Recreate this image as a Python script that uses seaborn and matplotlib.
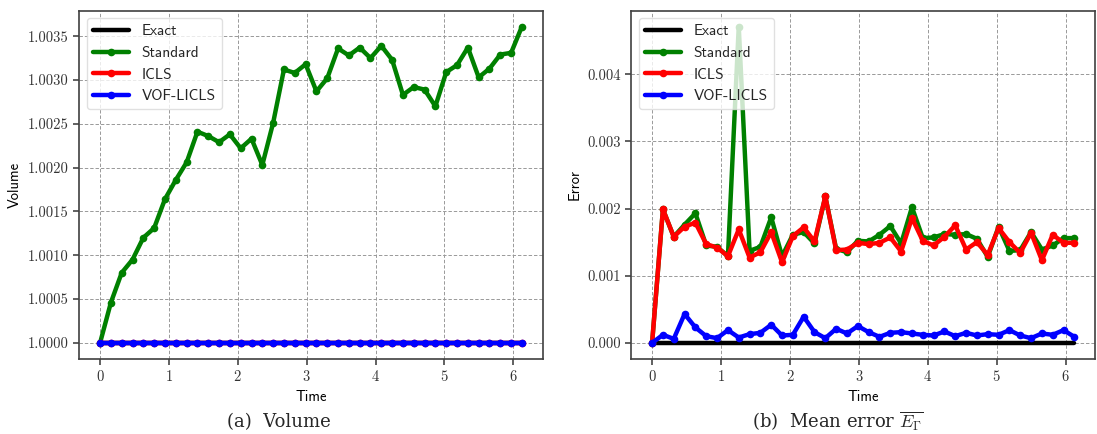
import numpy as np
import pandas as pd
import matplotlib
matplotlib.use("Agg")
import matplotlib.pyplot as plt
import seaborn as sns

# Sample times
time = [0.000, 0.157, 0.314, 0.471, 0.628, 0.785, 0.942, 1.100, 1.257, 1.414,
        1.571, 1.728, 1.885, 2.042, 2.199, 2.356, 2.513, 2.670, 2.827, 2.985,
        3.142, 3.299, 3.456, 3.613, 3.770, 3.927, 4.084, 4.241, 4.398, 4.555,
        4.712, 4.869, 5.027, 5.184, 5.341, 5.498, 5.655, 5.812, 5.969, 6.126]

# Volume
vol_exact = [1.0, 1.0]
vol_standard = [1.00000, 1.00046, 1.00080, 1.00095, 1.00120, 1.00131, 1.00164, 1.00186,
                1.00206, 1.00241, 1.00236, 1.00229, 1.00238, 1.00222, 1.00233, 1.00203,
                1.00251, 1.00312, 1.00308, 1.00318, 1.00287, 1.00302, 1.00336, 1.00328,
                1.00337, 1.00325, 1.00339, 1.00323, 1.00283, 1.00292, 1.00289, 1.00270,
                1.00309, 1.00317, 1.00337, 1.00303, 1.00313, 1.00329, 1.00331, 1.00361]
vol_icls = [1.0, 1.0, 1.0, 1.0, 1.0, 1.0, 1.0, 1.0, 1.0, 1.0,
            1.0, 1.0, 1.0, 1.0, 1.0, 1.0, 1.0, 1.0, 1.0, 1.0,
            1.0, 1.0, 1.0, 1.0, 1.0, 1.0, 1.0, 1.0, 1.0, 1.0,
            1.0, 1.0, 1.0, 1.0, 1.0, 1.0, 1.0, 1.0, 1.0, 1.0]
vol_licls = [1.0, 1.0, 1.0, 1.0, 1.0, 1.0, 1.0, 1.0, 1.0, 1.0,
             1.0, 1.0, 1.0, 1.0, 1.0, 1.0, 1.0, 1.0, 1.0, 1.0,
             1.0, 1.0, 1.0, 1.0, 1.0, 1.0, 1.0, 1.0, 1.0, 1.0,
             1.0, 1.0, 1.0, 1.0, 1.0, 1.0, 1.0, 1.0, 1.0, 1.0]

# Mean interface error
err_exact = [0.0, 0.0]
err_standard = [0.00000, 0.00199, 0.00158, 0.00176, 0.00193, 0.00145, 0.00143, 0.00129,
                0.00471, 0.00137, 0.00143, 0.00187, 0.00129, 0.00161, 0.00165, 0.00148,
                0.00218, 0.00140, 0.00135, 0.00152, 0.00151, 0.00161, 0.00174, 0.00148,
                0.00202, 0.00156, 0.00157, 0.00162, 0.00161, 0.00162, 0.00155, 0.00128,
                0.00173, 0.00137, 0.00138, 0.00165, 0.00139, 0.00145, 0.00156, 0.00156]
err_icls = [0.00000, 0.00199, 0.00158, 0.00173, 0.00179, 0.00147, 0.00142, 0.00129,
            0.00169, 0.00127, 0.00135, 0.00165, 0.00120, 0.00159, 0.00172, 0.00151,
            0.00218, 0.00138, 0.00139, 0.00149, 0.00147, 0.00149, 0.00157, 0.00136,
            0.00186, 0.00152, 0.00145, 0.00158, 0.00175, 0.00139, 0.00150, 0.00131,
            0.00171, 0.00150, 0.00134, 0.00164, 0.00123, 0.00161, 0.00149, 0.00149]
err_licls = [0.00000, 0.00012, 0.00006, 0.00043, 0.00023, 0.00010, 0.00007, 0.00019,
             0.00008, 0.00013, 0.00015, 0.00027, 0.00011, 0.00012, 0.00039, 0.00016,
             0.00007, 0.00021, 0.00014, 0.00025, 0.00016, 0.00009, 0.00015, 0.00016,
             0.00014, 0.00012, 0.00011, 0.00017, 0.00010, 0.00015, 0.00011, 0.00013,
             0.00012, 0.00019, 0.00011, 0.00007, 0.00014, 0.00012, 0.00019, 0.00009]

labels = ["Exact", "Standard", "ICLS", "VOF-LICLS"]
colors = ["black", "green", "red", "blue"]

sns.set_theme(style="whitegrid")
plt.rcParams.update({
    "font.family": ["cmss10", "DejaVu Sans"],
    "mathtext.fontset": "cm",
    "axes.formatter.use_mathtext": True,
    "axes.unicode_minus": False,
    "axes.edgecolor": "0.25",
    "axes.linewidth": 1.2,
    "grid.color": "0.6",
    "grid.linestyle": (0, (3.5, 2)),
    "grid.linewidth": 0.7,
    "xtick.bottom": True,
    "ytick.left": True,
    "xtick.direction": "out",
    "ytick.direction": "out",
    "xtick.major.size": 4,
    "ytick.major.size": 4,
    "xtick.color": "0.3",
    "ytick.color": "0.3",
    "xtick.labelcolor": "0.2",
    "ytick.labelcolor": "0.2",
})

fig = plt.figure(figsize=(10.97, 4.34), dpi=100)
ax1 = fig.add_axes([0.0720, 0.1735, 0.4230, 0.8018])
ax2 = fig.add_axes([0.5752, 0.1735, 0.4234, 0.8018])


def draw(ax, exact, standard, icls, licls):
    t_end = [time[0], time[-1]]
    sns.lineplot(x=t_end, y=exact, ax=ax, color=colors[0], lw=3.2,
                 label=labels[0], estimator=None, sort=False)
    for vals, c, lab in zip([standard, icls, licls], colors[1:], labels[1:]):
        sns.lineplot(x=time, y=vals, ax=ax, color=c, lw=3.2, marker="o",
                     markersize=5.5, markeredgewidth=0, label=lab,
                     estimator=None, sort=False)
    ax.set_xlabel("Time", fontsize=10.5, color="black")
    ax.set_xticks([0, 1, 2, 3, 4, 5, 6])
    ax.tick_params(labelsize=10.5)
    for lbl in ax.get_xticklabels() + ax.get_yticklabels():
        lbl.set_fontfamily("cmr10")
    leg = ax.legend(loc="upper left", fontsize=11, framealpha=0.8,
                    handlelength=2.4, borderaxespad=0.5)
    leg.get_frame().set_edgecolor("0.85")
    ax.grid(True)


draw(ax1, vol_exact, vol_standard, vol_icls, vol_licls)
ax1.set_ylabel("Volume", fontsize=10.5, color="black")
ax1.set_yticks([1.0, 1.0005, 1.0010, 1.0015, 1.0020, 1.0025, 1.0030, 1.0035])
ax1.set_yticklabels([f"{v:.4f}" for v in ax1.get_yticks()], fontfamily="cmr10")

draw(ax2, err_exact, err_standard, err_icls, err_licls)
ax2.set_ylabel("Error", fontsize=10.5, color="black")
ax2.set_yticks([0.0, 0.001, 0.002, 0.003, 0.004])
ax2.set_yticklabels([f"{v:.3f}" for v in ax2.get_yticks()], fontfamily="cmr10")

fig.text(279 / 1097, 0.028, "(a)  Volume", ha="center", va="center",
         fontsize=13, family="DejaVu Serif")
fig.text(838 / 1097, 0.028, r"(b)  Mean error $\overline{E_\Gamma}$", ha="center",
         va="center", fontsize=13, family="DejaVu Serif")

fig.savefig("out.png", dpi=100)
